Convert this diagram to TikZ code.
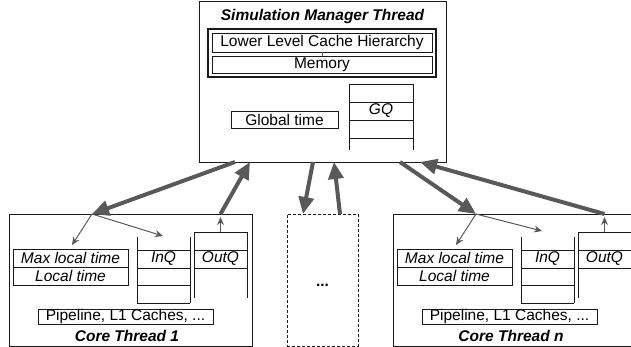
\documentclass[tikz,border=0pt]{standalone}
\usepackage{fontspec}
\setmainfont{Liberation Sans}
\usetikzlibrary{arrows.meta}
\definecolor{arr}{HTML}{595959}
\definecolor{edge}{HTML}{1A1A1A}
\begin{document}
\begin{tikzpicture}[x=1pt,y=-1pt,
  font=\fontsize{15.5}{18}\selectfont,
  box/.style={draw=edge, line width=0.9pt, inner sep=0pt, outer sep=0pt, rectangle},
  qline/.style={draw=edge, line width=0.9pt},
  thickarr/.style={draw=arr, line width=4pt, -{Triangle[length=17pt,width=15pt]}},
  thinarr/.style={draw=arr, line width=1pt, -{Stealth[length=8pt,width=7pt]}},
  label/.style={inner sep=0pt, outer sep=0pt}]
\clip (0,0) rectangle (631,347);
\useasboundingbox (0,0) rectangle (631,347);

% Simulation manager
\node[box, minimum width=247pt, minimum height=161pt] (mgr) at (322.5,81.5) {};
\node[label] (mgrt) at (322.5,16) {\bfseries\itshape Simulation Manager Thread};
\node[box, line width=1.6pt, minimum width=228pt, minimum height=48pt] (cache) at (322,53) {};
\node[box, minimum width=220pt, minimum height=19pt] (llc) at (322,42.5) {Lower Level Cache Hierarchy};
\node[box, minimum width=220pt, minimum height=17pt] (mem) at (322,64.5) {Memory};
\draw[arr, line width=0.6pt] (llc.south) -- (mem.north);
\node[box, minimum width=107pt, minimum height=17pt] (gt) at (284.5,119.5) {Global time};
\draw[qline] (349,84) -- (349,150) (413,84) -- (413,150)
  (349,84) -- (413,84) (349,102) -- (413,102) (349,120) -- (413,120) (349,138) -- (413,138);
\node[label] (gq) at (381,110.5) {\itshape GQ};

% Core threads
\foreach \dx/\s/\lab/\ix/\iy in {0/a/1/163/236, 384/b/n/158/231}{
  \begin{scope}[xshift=\dx pt]
    \node[box, minimum width=243pt, minimum height=132pt] (core\s) at (130.5,280) {};
    \node[box, minimum width=115pt, minimum height=18pt] (max\s) at (70.5,258) {\itshape Max local time};
    \node[box, minimum width=115pt, minimum height=18pt] (loc\s) at (70.5,276) {\itshape Local time};
    \draw[qline] (137,237) -- (137,303) (190,237) -- (190,303)
      (137,250) -- (190,250) (137,268) -- (190,268) (137,285) -- (190,285) (137,303) -- (190,303);
    \node[label] (inq\s) at (163.5,259) {\itshape InQ};
    \draw[qline] (194,232) -- (194,298) (247,232) -- (247,298)
      (194,232) -- (247,232) (194,250) -- (247,250) (194,268) -- (247,268);
    \node[label] (outq\s) at (220.5,259) {\itshape OutQ};
    \node[box, minimum width=175pt, minimum height=15pt] (pipe\s) at (125.5,316.5) {Pipeline, L1 Caches, ...};
    \node[label] (ct\s) at (127,336) {\bfseries\itshape Core Thread \lab};
    \coordinate (j\s) at (92,214);
    \coordinate (o\s) at (220.5,232);
    \coordinate (ot\s) at (220.5,214);
    \coordinate (iq\s) at (\ix,\iy);
    \coordinate (mt\s) at (72,245);
    \coordinate (oa\s) at (220.5,217);
  \end{scope}
  \draw[thinarr] (j\s) -- (mt\s);
  \draw[thinarr] (j\s) -- (iq\s);
  \draw[thinarr] (o\s) -- (oa\s);
}

% Placeholder for other cores
\node[box, dashed, dash pattern=on 3pt off 2pt, minimum width=71pt, minimum height=132pt] (dots) at (322.5,280) {};
\node[label] (dotst) at (322.5,285) {\bfseries ...};

% Connections with manager
\coordinate (m1) at (235,162);
\coordinate (m2) at (250,162);
\coordinate (m3) at (313,162);
\coordinate (m4) at (334,162);
\coordinate (m5) at (400,162);
\coordinate (m6) at (420,162);
\coordinate (d1) at (303,214);
\coordinate (d2) at (340,214);
\draw[thickarr] (m1) -- (ja);
\draw[thickarr] (ota) -- (m2);
\draw[thickarr] (m3) -- (d1);
\draw[thickarr] (d2) -- (m4);
\draw[thickarr] (m5) -- (jb);
\draw[thickarr] (otb) -- (m6);
\end{tikzpicture}
\end{document}
